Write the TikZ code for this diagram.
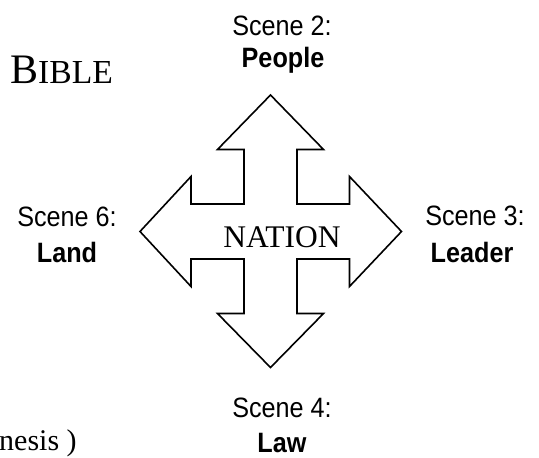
\documentclass[tikz,border=0pt]{standalone}
\usepackage{fontspec}
\setmainfont{Liberation Serif}
\newfontfamily\arialf{Liberation Sans}
\newcommand\narrowtxt[1]{\scalebox{0.9}[1]{#1}}
\begin{document}
\begin{tikzpicture}[x=1pt,y=-1pt,
  lbl/.style={font=\arialf\fontsize{28}{30}\selectfont, inner sep=0pt, anchor=base},
  blbl/.style={font=\arialf\bfseries\fontsize{28}{30}\selectfont, inner sep=0pt, anchor=base},
  serif/.style={inner sep=0pt, anchor=base},
  arrowline/.style={line width=1.6pt, line join=miter, draw=black}]
\useasboundingbox (0,0) rectangle (539,458);
% four-way arrow
\draw[arrowline] (270.5,95) -- (323.5,149.5) -- (297,149.5) -- (297,204)
  -- (349.5,204) -- (349.5,176.5) -- (401.5,231.5) -- (349.5,286.5)
  -- (349.5,259) -- (297,259) -- (297,313.5) -- (323.5,313.5)
  -- (270.5,367.5) -- (217.5,313.5) -- (244,313.5) -- (244,259)
  -- (191,259) -- (191,286.5) -- (140,231.5) -- (191,176.5)
  -- (191,204) -- (244,204) -- (244,149.5) -- (217.5,149.5) -- cycle;
\node[serif, font=\fontsize{31.5}{33}\selectfont] (nation) at (282,247) {NATION};
% labels
\node[lbl] (s2) at (282,35) {\narrowtxt{Scene 2:}};
\node[blbl] (s2b) at (283,67) {\narrowtxt{People}};
\node[lbl] (s3) at (475,225) {\narrowtxt{Scene 3:}};
\node[blbl] (s3b) at (472,262) {\narrowtxt{Leader}};
\node[lbl] (s6) at (67,226) {\narrowtxt{Scene 6:}};
\node[blbl] (s6b) at (67,262) {\narrowtxt{Land}};
\node[lbl] (s4) at (282,417) {\narrowtxt{Scene 4:}};
\node[blbl] (s4b) at (282,452) {\narrowtxt{Law}};
% title and source
\node[serif, anchor=base west] (bible) at (10,83) {\fontsize{42}{44}\selectfont B\fontsize{33.6}{35}\selectfont IBLE};
\node[serif, anchor=base west, font=\fontsize{30}{32}\selectfont] (src) at (-1,450) {nesis )};
\end{tikzpicture}
\end{document}
